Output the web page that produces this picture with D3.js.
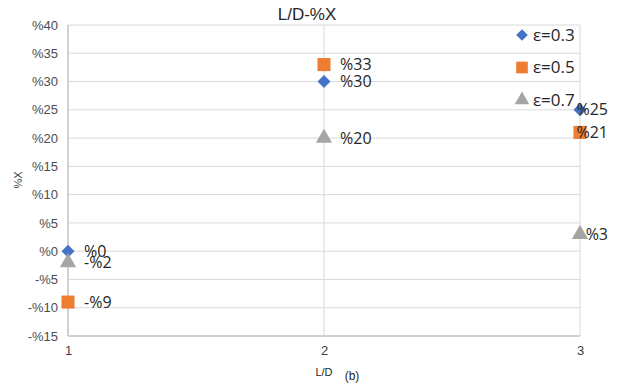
<!DOCTYPE html>
<html>
<head>
<meta charset="utf-8">
<script src="https://cdn.jsdelivr.net/npm/d3@7"></script>
<style>
  html, body { margin: 0; padding: 0; background: #fff; }
  svg { display: block; font-family: "Liberation Sans", Arial, sans-serif; }
</style>
</head>
<body>
<svg id="chart" width="618" height="389"></svg>
<script>
// L/D ratios on the x axis
const ldValues = [1, 2, 3];
// %X for each ε series
const seriesNames = ["ε=0.3", "ε=0.5", "ε=0.7"];
const eps03 = [0, 30, 25];
const eps05 = [-9, 33, 21];
const eps07 = [-2, 20, 3];
const yTicks = [-15, -10, -5, 0, 5, 10, 15, 20, 25, 30, 35, 40];

// square rotated by 45°, same width and height
const symbolRhombus = {
  draw(ctx, size) {
    const r = Math.sqrt(size / 2);
    ctx.moveTo(0, -r); ctx.lineTo(r, 0); ctx.lineTo(0, r); ctx.lineTo(-r, 0); ctx.closePath();
  }
};

const colors = ["#4472C4", "#ED7D31", "#A5A5A5"];
const shapes = [symbolRhombus, d3.symbolSquare, d3.symbolTriangle];
const sizes = [85, 170, 115];

const series = [eps03, eps05, eps07].map((vals, i) => ({
  name: seriesNames[i], color: colors[i], shape: shapes[i], size: sizes[i],
  points: vals.map((v, j) => ({ x: ldValues[j], y: v }))
}));

const svg = d3.select("#chart");
const W = 618;
const plot = { left: 68, right: 580, top: 25, bottom: 336 };

const x = d3.scaleLinear().domain([1, 3]).range([plot.left, plot.right]);
const y = d3.scaleLinear().domain([-15, 40]).range([plot.bottom, plot.top]);

const fmt = v => (v < 0 ? "-%" + Math.abs(v) : "%" + v);

// horizontal grid
svg.append("g").selectAll("line").data(yTicks).join("line")
  .attr("x1", plot.left).attr("x2", plot.right)
  .attr("y1", d => y(d)).attr("y2", d => y(d))
  .attr("stroke", "#d9d9d9").attr("stroke-width", 1);
// vertical grid
svg.append("g").selectAll("line").data(ldValues).join("line")
  .attr("x1", d => x(d)).attr("x2", d => x(d))
  .attr("y1", plot.top).attr("y2", plot.bottom)
  .attr("stroke", "#d9d9d9").attr("stroke-width", 1);
// axis lines
svg.append("line").attr("x1", plot.left).attr("x2", plot.right)
  .attr("y1", plot.bottom).attr("y2", plot.bottom)
  .attr("stroke", "#c8c8c8").attr("stroke-width", 1.5);
svg.append("line").attr("x1", plot.left).attr("x2", plot.left)
  .attr("y1", plot.top).attr("y2", plot.bottom)
  .attr("stroke", "#c8c8c8").attr("stroke-width", 1.5);

// y axis
const yAxis = d3.axisLeft(y).tickValues(yTicks).tickFormat(fmt).tickSize(0).tickPadding(10);
const gy = svg.append("g").attr("transform", `translate(${plot.left},0)`).call(yAxis);
gy.select(".domain").remove();
gy.selectAll("text").attr("fill", "#4d4d4d").style("font-size", "13px")
  .style("font-family", "Liberation Sans, Arial, sans-serif");

// x axis
const xAxis = d3.axisBottom(x).tickValues(ldValues).tickFormat(d3.format("d")).tickSize(0).tickPadding(10);
const gx = svg.append("g").attr("transform", `translate(0,${plot.bottom})`).call(xAxis);
gx.select(".domain").remove();
gx.selectAll("text").attr("fill", "#404040").style("font-size", "13px")
  .style("font-family", "Liberation Sans, Arial, sans-serif");

// title and axis titles
svg.append("text").attr("x", 307).attr("y", 20).attr("text-anchor", "middle")
  .style("font-size", "17px").attr("fill", "#262626").text("L/D-%X");
svg.append("text").attr("transform", "translate(22,180) rotate(-90)").attr("text-anchor", "middle")
  .style("font-size", "11px").attr("fill", "#404040").text("%X");
svg.append("text").attr("x", 324).attr("y", 376).attr("text-anchor", "middle")
  .style("font-size", "11px").attr("fill", "#262626").text("L/D");
svg.append("text").attr("x", 352).attr("y", 380).attr("text-anchor", "middle")
  .style("font-size", "12px").attr("fill", "#262626").text("(b)");

// markers
series.forEach(s => {
  svg.append("g").selectAll("path").data(s.points).join("path")
    .attr("d", d3.symbol().type(s.shape).size(s.size))
    .attr("transform", d => `translate(${x(d.x)},${y(d.y)})`)
    .attr("fill", s.color);
});

// data labels, kept inside the page on the right side
series.forEach(s => {
  svg.append("g").selectAll("text").data(s.points).join("text")
    .attr("y", d => y(d.y))
    .attr("dy", "0.35em")
    .style("font-size", "16px")
    .style("font-family", "Open Sans, Liberation Sans, sans-serif")
    .attr("fill", "#262626")
    .text(d => fmt(d.y))
    .attr("x", function (d) {
      const w = this.getComputedTextLength();
      return Math.min(x(d.x) + 16, W - 10 - w);
    });
});

// legend
const lg = svg.append("g");
series.forEach((s, i) => {
  const ly = 35 + i * 32.5;
  lg.append("path").attr("d", d3.symbol().type(s.shape).size(s.size * 0.8))
    .attr("transform", `translate(522,${ly})`).attr("fill", s.color);
  lg.append("text").attr("x", 533).attr("y", ly).attr("dy", "0.35em")
    .style("font-size", "17px")
    .style("font-family", "Open Sans, Liberation Sans, sans-serif")
    .attr("fill", "#262626").text(s.name);
});
</script>
</body>
</html>
